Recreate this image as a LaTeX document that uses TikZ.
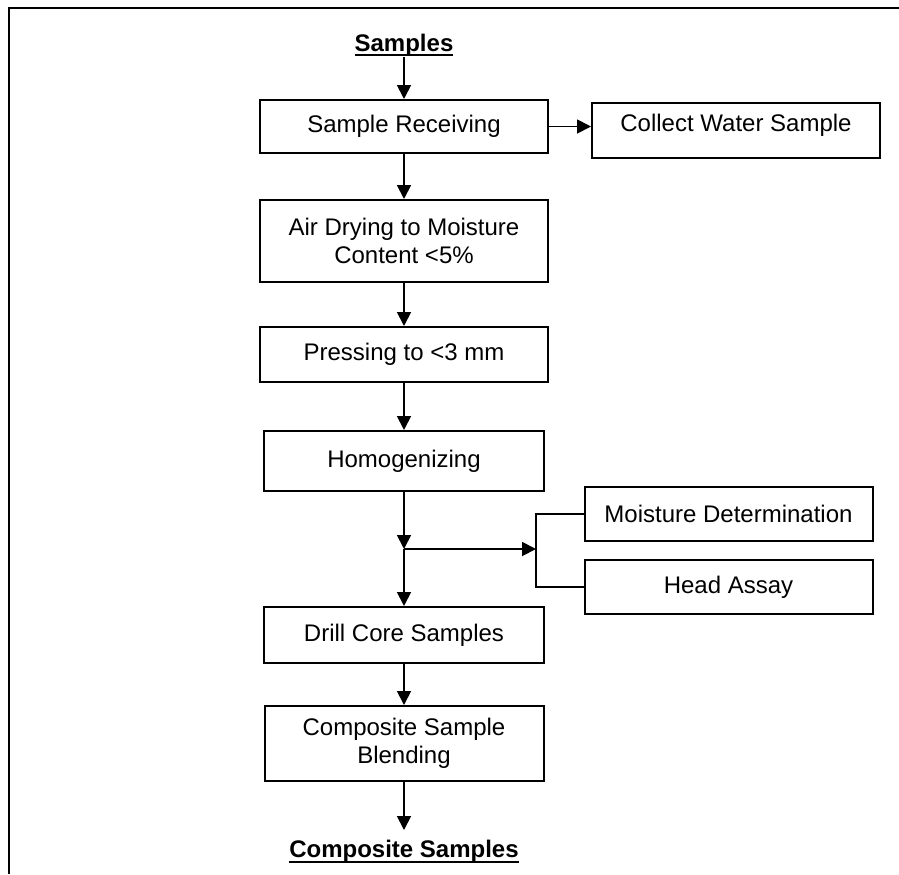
\documentclass[tikz,border=0pt]{standalone}
\usepackage{fontspec}
\setmainfont{Liberation Sans}
\usepackage{tikz}
\usetikzlibrary{arrows.meta,positioning}
\newsavebox{\headbox}
\newcommand{\headline}[1]{\sbox{\headbox}{\bfseries #1}\rlap{\rule[-2.4pt]{\wd\headbox}{1pt}}\usebox{\headbox}}
\tikzset{
  stepbox/.style={rectangle,draw=black,line width=1pt,align=center,minimum width=144pt,minimum height=27.5pt,inner sep=2pt},
  sidebox/.style={stepbox,minimum height=27pt},
  headnode/.style={inner sep=0pt},
  arr/.style={-{Triangle[length=7pt,width=7pt]},line width=0.9pt},
  plainline/.style={line width=0.9pt}
}
\begin{document}
\begin{tikzpicture}[font=\fontsize{12}{14}\selectfont]
  \useasboundingbox (0,0) rectangle (449.5pt,-437pt);
  \draw[line width=1.3pt] (4.5pt,-437pt) |- (449.5pt,-4pt);

  \node[stepbox,minimum height=26.5pt] (recv) at (202pt,-63.25pt) {Sample Receiving};
  \node[headnode,above=21pt of recv] (samples) {\headline{Samples}};
  \node[stepbox,right=21pt of recv,yshift=-2pt,text depth=8pt] (water) {Collect Water Sample};
  \node[stepbox,minimum height=41pt,below=22.5pt of recv] (dry) {Air Drying to Moisture\\Content <5\%};
  \node[stepbox,below=21.5pt of dry] (press) {Pressing to <3 mm};
  \node[stepbox,minimum width=140pt,minimum height=30pt,below=23.5pt of press] (homog) {Homogenizing};
  \coordinate[below=28.5pt of homog] (jn);
  \coordinate[right=66pt of jn] (fork);
  \node[sidebox,above right=3.5pt and 89.75pt of jn] (moist) {Moisture Determination};
  \node[sidebox,below right=5pt and 89.75pt of jn] (assay) {Head Assay};
  \node[stepbox,minimum width=140pt,minimum height=28pt,below=28.5pt of jn] (drill) {Drill Core Samples};
  \node[stepbox,minimum width=139.5pt,minimum height=37.5pt,below=20.5pt of drill] (blend) {Composite Sample\\Blending};
  \node[headnode,inner ysep=5pt,below=24pt of blend] (comp) {\headline{Composite Samples}};

  \draw[arr] (samples) -- (recv);
  \draw[arr] (recv.east) -- (recv.east -| water.west);
  \draw[arr] (recv) -- (dry);
  \draw[arr] (dry) -- (press);
  \draw[arr] (press) -- (homog);
  \draw[arr] (homog) -- (jn);
  \draw[arr] (jn) -- (fork);
  \draw[plainline] (moist.west) -| (fork) |- (assay.west);
  \draw[arr] (jn) -- (drill);
  \draw[arr] (drill) -- (blend);
  \draw[arr] (blend) -- (comp);
\end{tikzpicture}
\end{document}
